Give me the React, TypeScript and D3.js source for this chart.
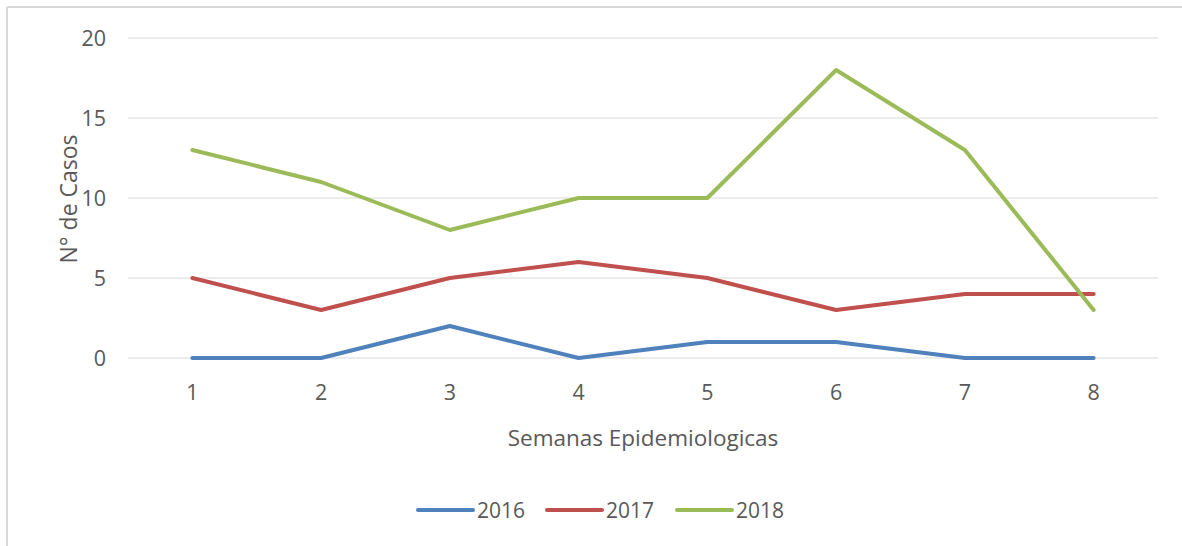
import React from "react";
import * as d3 from "d3";

const weeks = ["1", "2", "3", "4", "5", "6", "7", "8"];
const s2016 = [0, 0, 2, 0, 1, 1, 0, 0];
const s2017 = [5, 3, 5, 6, 5, 3, 4, 4];
const s2018 = [13, 11, 8, 10, 10, 18, 13, 3];
const seriesNames = ["2016", "2017", "2018"];
const seriesColors = ["#4F81BD", "#C0504D", "#9BBB59"];
const yTicks = [0, 5, 10, 15, 20];

export default function App() {
  const W = 1182, H = 546;
  const left = 128, right = 1158, top = 38, bottom = 358;
  const x = d3.scaleBand().domain(weeks).range([left, right]);
  const y = d3.scaleLinear().domain([0, 20]).range([bottom, top]);
  const line = d3.line<number>()
    .x((_, i) => (x(weeks[i]) as number) + x.bandwidth() / 2)
    .y((d) => y(d));
  const series = [s2016, s2017, s2018];
  const font = "'Open Sans', sans-serif";
  const textColor = "#595959";
  const legendX = [418, 547, 677];
  return (
    <svg width={W} height={H} style={{ position: "absolute", left: 0, top: 0, background: "#fff" }}>
      <rect x={0} y={0} width={W} height={H} fill="#fff" />
      <line x1={7} y1={7} x2={W} y2={7} stroke="#d9d9d9" strokeWidth={2} />
      <line x1={7} y1={7} x2={7} y2={H} stroke="#d9d9d9" strokeWidth={2} />
      {yTicks.map((t) => (
        <g key={t}>
          <line x1={left} x2={right} y1={y(t)} y2={y(t)} stroke="#d9d9d9" strokeWidth={1} />
          <text x={106} y={y(t)} dy="0.36em" textAnchor="end" fontFamily={font} fontSize={21.5} fill={textColor}>{t}</text>
        </g>
      ))}
      {weeks.map((w) => (
        <text key={w} x={(x(w) as number) + x.bandwidth() / 2} y={400} textAnchor="middle" fontFamily={font} fontSize={21.5} fill={textColor}>{w}</text>
      ))}
      {series.map((s, i) => (
        <path key={i} d={line(s) as string} fill="none" stroke={seriesColors[i]} strokeWidth={4} strokeLinecap="round" strokeLinejoin="round" />
      ))}
      <text x={643} y={446} textAnchor="middle" fontFamily={font} fontSize={22.5} fill={textColor}>Semanas Epidemiologicas</text>
      <text transform="translate(77,199) rotate(-90)" textAnchor="middle" fontFamily={font} fontSize={23} fill={textColor}>N° de Casos</text>
      {seriesNames.map((n, i) => (
        <g key={n}>
          <line x1={legendX[i]} x2={legendX[i] + 55} y1={510} y2={510} stroke={seriesColors[i]} strokeWidth={4} strokeLinecap="round" />
          <text x={legendX[i] + 59} y={518} fontFamily={font} fontSize={21} fill={textColor}>{n}</text>
        </g>
      ))}
    </svg>
  );
}
